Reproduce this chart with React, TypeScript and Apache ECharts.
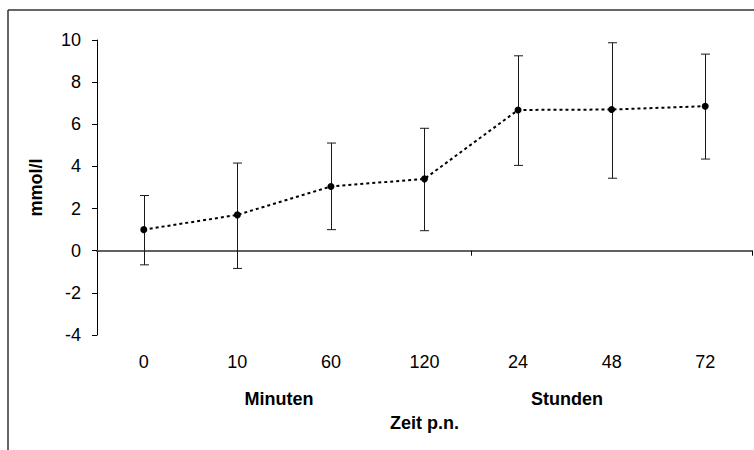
import React, { useEffect, useRef } from "react";
import * as echarts from "echarts";

const categories = ["0", "10", "60", "120", "24", "48", "72"];
const means = [1.0, 1.7, 3.05, 3.41, 6.68, 6.7, 6.86];
const lowers = [-0.67, -0.84, 1.0, 0.95, 4.05, 3.44, 4.35];
const uppers = [2.62, 4.16, 5.11, 5.81, 9.25, 9.87, 9.33];
const yTicks = { min: -4, max: 10, interval: 2 };
const groupLabels = ["Minuten", "Stunden"];
const xName = "Zeit p.n.";
const yName = "mmol/l";

const FONT = "'Liberation Sans', Arial, sans-serif";
const FS = 18;

export default function App() {
  const ref = useRef<HTMLDivElement>(null);
  useEffect(() => {
    if (!ref.current) return;
    const chart = echarts.init(ref.current, null, { renderer: "svg" });
    const errData = categories.map((c, i) => [i, lowers[i], uppers[i]]);
    chart.setOption({
      animation: false,
      backgroundColor: "#fff",
      textStyle: { fontFamily: FONT },
      grid: { left: 97, top: 40, right: 2, bottom: 115, containLabel: false },
      xAxis: {
        type: "category",
        data: categories,
        boundaryGap: true,
        name: xName,
        nameLocation: "middle",
        nameGap: 79,
        nameTextStyle: { fontFamily: FONT, fontSize: FS, fontWeight: "bold", color: "#000" },
        axisLine: { lineStyle: { color: "#606060", width: 2 } },
        axisTick: {
          show: true,
          interval: (index: number) => index === 0 || index === 4,
          length: 5,
          lineStyle: { color: "#000", width: 1 },
        },
        axisLabel: { fontFamily: FONT, fontSize: FS, color: "#000", margin: 18, interval: 0 },
        splitLine: { show: false },
      },
      yAxis: {
        type: "value",
        min: yTicks.min,
        max: yTicks.max,
        interval: yTicks.interval,
        name: yName,
        nameLocation: "middle",
        nameGap: 52,
        nameRotate: 90,
        nameTextStyle: { fontFamily: FONT, fontSize: FS, fontWeight: "bold", color: "#000" },
        axisLine: { show: true, lineStyle: { color: "#000", width: 1 } },
        axisTick: { show: true, length: 5, lineStyle: { color: "#000" } },
        axisLabel: { fontFamily: FONT, fontSize: FS, color: "#000", margin: 16 },
        splitLine: { show: false },
      },
      graphic: [
        { type: "line", shape: { x1: 8, y1: 10, x2: 754, y2: 10 }, style: { stroke: "#333", lineWidth: 1.5 } },
        { type: "line", shape: { x1: 8, y1: 10, x2: 8, y2: 450 }, style: { stroke: "#333", lineWidth: 1.5 } },
        {
          type: "text",
          x: 279,
          y: 398.5,
          style: {
            text: groupLabels[0],
            font: `bold ${FS}px ${FONT}`,
            fill: "#000",
            align: "center",
            verticalAlign: "middle",
          },
        },
        {
          type: "text",
          x: 567,
          y: 398.5,
          style: {
            text: groupLabels[1],
            font: `bold ${FS}px ${FONT}`,
            fill: "#000",
            align: "center",
            verticalAlign: "middle",
          },
        },
      ],
      series: [
        {
          type: "custom",
          data: errData,
          z: 1,
          renderItem: (params: any, api: any) => {
            const i = api.value(0);
            const lo = api.coord([i, api.value(1)]);
            const hi = api.coord([i, api.value(2)]);
            const x = Math.round(lo[0]) + 0.5;
            const hw = 4.5;
            const st = { stroke: "#1a1a1a", lineWidth: 1 };
            return {
              type: "group",
              children: [
                { type: "line", shape: { x1: x, y1: hi[1], x2: x, y2: lo[1] }, style: st },
                { type: "line", shape: { x1: x - hw, y1: hi[1], x2: x + hw, y2: hi[1] }, style: st },
                { type: "line", shape: { x1: x - hw, y1: lo[1], x2: x + hw, y2: lo[1] }, style: st },
              ],
            };
          },
        },
        {
          type: "line",
          data: means,
          z: 2,
          symbol: "circle",
          symbolSize: 7,
          itemStyle: { color: "#000" },
          lineStyle: { color: "#000", width: 2, type: [3, 3] },
        },
      ],
    });
    return () => chart.dispose();
  }, []);
  return <div ref={ref} style={{ width: 754, height: 450, position: "absolute", left: 0, top: 0 }} />;
}
